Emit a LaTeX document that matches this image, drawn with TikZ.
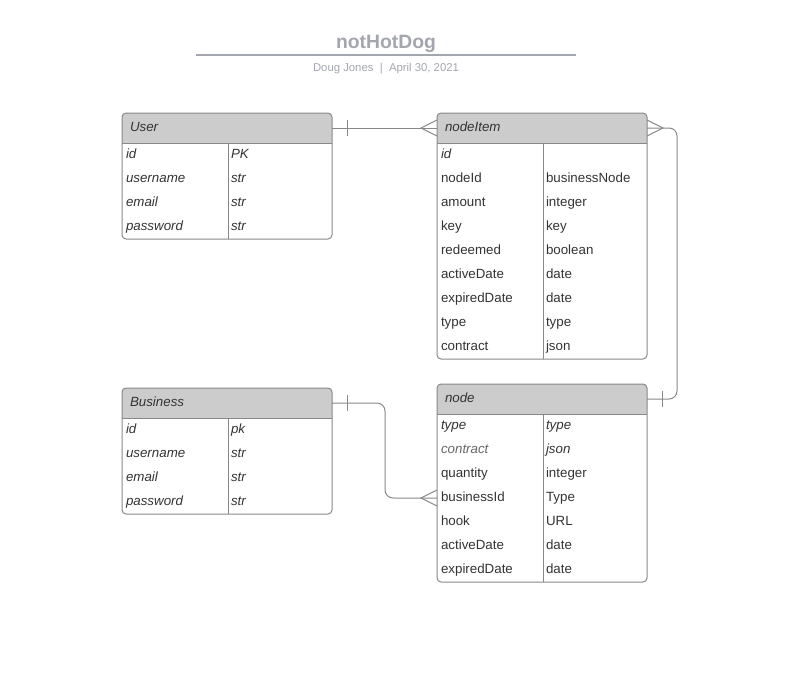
\documentclass[tikz,border=0pt]{standalone}
\usepackage{fontspec}
\setmainfont{Liberation Sans}
\usepackage{xcolor}
\usepackage{tikz}
\usetikzlibrary{positioning, fit, backgrounds}

\definecolor{hdrgray}{HTML}{CCCCCC}
\definecolor{linegray}{HTML}{888888}
\definecolor{titlegray}{HTML}{A3A6AD}
\definecolor{txtgray}{HTML}{333333}

\begin{document}
\begin{tikzpicture}[
    x=0.75pt, y=-0.75pt,
    tblhead/.style={rectangle, minimum width=157.5pt, minimum height=22.5pt,
                    inner xsep=6pt, inner ysep=0pt, outer sep=0pt,
                    text width=145.5pt, text height=7pt, text depth=2pt, align=left,
                    font=\fontsize{10}{12}\selectfont\itshape, text=txtgray},
    cellL/.style={rectangle, minimum height=18pt, inner xsep=3pt, inner ysep=0pt,
                  outer sep=0pt, text width=73.5pt, text height=7pt, text depth=2pt,
                  align=left, font=\fontsize{10}{12}\selectfont, text=txtgray},
    cellR/.style={cellL, inner xsep=2.25pt, text width=73.5pt},
    ital/.style={font=\fontsize{10}{12}\selectfont\itshape},
    tblframe/.style={rectangle, draw=linegray, rounded corners=3pt, inner sep=0pt,
                     line width=0.75pt},
    grid/.style={draw=linegray, line width=0.75pt},
    rel/.style={draw=linegray, line width=0.75pt}
]
\useasboundingbox (0,0) rectangle (806,674);

% --- Title ---
\node[font=\fontsize{14.5}{17}\selectfont\bfseries, text=titlegray] (title) at (386,44) {notHotDog};
\draw[draw=titlegray, line width=1pt] (196,55) -- (576,55);
\node[font=\fontsize{8.5}{10}\selectfont, text=titlegray] (byline) at (386,69)
    {Doug Jones~~|~~April 30, 2021};

% --- User ---
\node[tblhead, anchor=north west] (user) at (122,113) {User};
\node[cellL, ital, anchor=north west] (u1) at (user.south west) {id};
\node[cellR, ital, right=0pt of u1] (u1t) {PK};
\node[cellL, ital, below=0pt of u1] (u2) {username};
\node[cellR, ital, right=0pt of u2] (u2t) {str};
\node[cellL, ital, below=0pt of u2] (u3) {email};
\node[cellR, ital, right=0pt of u3] (u3t) {str};
\node[cellL, ital, below=0pt of u3] (u4) {password};
\node[cellR, ital, right=0pt of u4] (u4t) {str};
\node[tblframe, fit=(user)(u4t)] (userbox) {};
\draw[grid] (user.south west) -- (user.south east);
\draw[grid] (u1.north east) -- (u4.south east);

% --- nodeItem ---
\node[tblhead, anchor=north west] (nodeItem) at (437,113) {nodeItem};
\node[cellL, ital, anchor=north west] (ni1) at (nodeItem.south west) {id};
\node[cellR, right=0pt of ni1] (ni1t) {};
\node[cellL, below=0pt of ni1] (ni2) {nodeId};
\node[cellR, right=0pt of ni2] (ni2t) {businessNode};
\node[cellL, below=0pt of ni2] (ni3) {amount};
\node[cellR, right=0pt of ni3] (ni3t) {integer};
\node[cellL, below=0pt of ni3] (ni4) {key};
\node[cellR, right=0pt of ni4] (ni4t) {key};
\node[cellL, below=0pt of ni4] (ni5) {redeemed};
\node[cellR, right=0pt of ni5] (ni5t) {boolean};
\node[cellL, below=0pt of ni5] (ni6) {activeDate};
\node[cellR, right=0pt of ni6] (ni6t) {date};
\node[cellL, below=0pt of ni6] (ni7) {expiredDate};
\node[cellR, right=0pt of ni7] (ni7t) {date};
\node[cellL, below=0pt of ni7] (ni8) {type};
\node[cellR, right=0pt of ni8] (ni8t) {type};
\node[cellL, below=0pt of ni8] (ni9) {contract};
\node[cellR, right=0pt of ni9] (ni9t) {json};
\node[tblframe, fit=(nodeItem)(ni9t)] (nodeItembox) {};
\draw[grid] (nodeItem.south west) -- (nodeItem.south east);
\draw[grid] (ni1.north east) -- (ni9.south east);

% --- Business ---
\node[tblhead, anchor=north west] (business) at (122,388) {Business};
\node[cellL, ital, anchor=north west] (b1) at (business.south west) {id};
\node[cellR, ital, right=0pt of b1] (b1t) {pk};
\node[cellL, ital, below=0pt of b1] (b2) {username};
\node[cellR, ital, right=0pt of b2] (b2t) {str};
\node[cellL, ital, below=0pt of b2] (b3) {email};
\node[cellR, ital, right=0pt of b3] (b3t) {str};
\node[cellL, ital, below=0pt of b3] (b4) {password};
\node[cellR, ital, right=0pt of b4] (b4t) {str};
\node[tblframe, fit=(business)(b4t)] (businessbox) {};
\draw[grid] (business.south west) -- (business.south east);
\draw[grid] (b1.north east) -- (b4.south east);

% --- node ---
\node[tblhead, anchor=north west] (nodeTbl) at (437,384) {node};
\node[cellL, ital, anchor=north west] (n1) at (nodeTbl.south west) {type};
\node[cellR, ital, right=0pt of n1] (n1t) {type};
\node[cellL, ital, text=black!60, below=0pt of n1] (n2) {contract};
\node[cellR, ital, right=0pt of n2] (n2t) {json};
\node[cellL, below=0pt of n2] (n3) {quantity};
\node[cellR, right=0pt of n3] (n3t) {integer};
\node[cellL, below=0pt of n3] (n4) {businessId};
\node[cellR, right=0pt of n4] (n4t) {Type};
\node[cellL, below=0pt of n4] (n5) {hook};
\node[cellR, right=0pt of n5] (n5t) {URL};
\node[cellL, below=0pt of n5] (n6) {activeDate};
\node[cellR, right=0pt of n6] (n6t) {date};
\node[cellL, below=0pt of n6] (n7) {expiredDate};
\node[cellR, right=0pt of n7] (n7t) {date};
\node[tblframe, fit=(nodeTbl)(n7t)] (nodeTblbox) {};
\draw[grid] (nodeTbl.south west) -- (nodeTbl.south east);
\draw[grid] (n1.north east) -- (n7.south east);

% --- Header fills ---
\begin{scope}[on background layer]
\fill[hdrgray, rounded corners=3pt] (user.north west) rectangle (user.south east);
\fill[hdrgray] ([yshift=4pt]user.south west) rectangle (user.south east);
\fill[hdrgray, rounded corners=3pt] (nodeItem.north west) rectangle (nodeItem.south east);
\fill[hdrgray] ([yshift=4pt]nodeItem.south west) rectangle (nodeItem.south east);
\fill[hdrgray, rounded corners=3pt] (business.north west) rectangle (business.south east);
\fill[hdrgray] ([yshift=4pt]business.south west) rectangle (business.south east);
\fill[hdrgray, rounded corners=3pt] (nodeTbl.north west) rectangle (nodeTbl.south east);
\fill[hdrgray] ([yshift=4pt]nodeTbl.south west) rectangle (nodeTbl.south east);
\end{scope}

% --- User -> nodeItem ---
\draw[rel] (user.east) -- (nodeItem.west);
\draw[rel] ([xshift=11.25pt, yshift=6pt]user.east) -- ([xshift=11.25pt, yshift=-6pt]user.east);
\draw[rel] ([yshift=6pt]nodeItem.west) -- ([xshift=-12pt]nodeItem.west) -- ([yshift=-6pt]nodeItem.west);

% --- nodeItem -> node ---
\draw[rel, rounded corners=6pt] (nodeItem.east) -- ([xshift=22.5pt]nodeItem.east) |- (nodeTbl.east);
\draw[rel] ([yshift=6pt]nodeItem.east) -- ([xshift=12pt]nodeItem.east) -- ([yshift=-6pt]nodeItem.east);
\draw[rel] ([xshift=11.25pt, yshift=6pt]nodeTbl.east) -- ([xshift=11.25pt, yshift=-6pt]nodeTbl.east);

% --- Business -> node ---
\draw[rel, rounded corners=6pt] (business.east) -- ([xshift=39.75pt]business.east) |- (n4.west);
\draw[rel] ([xshift=11.25pt, yshift=6pt]business.east) -- ([xshift=11.25pt, yshift=-6pt]business.east);
\draw[rel] ([yshift=6pt]n4.west) -- ([xshift=-12pt]n4.west) -- ([yshift=-6pt]n4.west);

\end{tikzpicture}
\end{document}
